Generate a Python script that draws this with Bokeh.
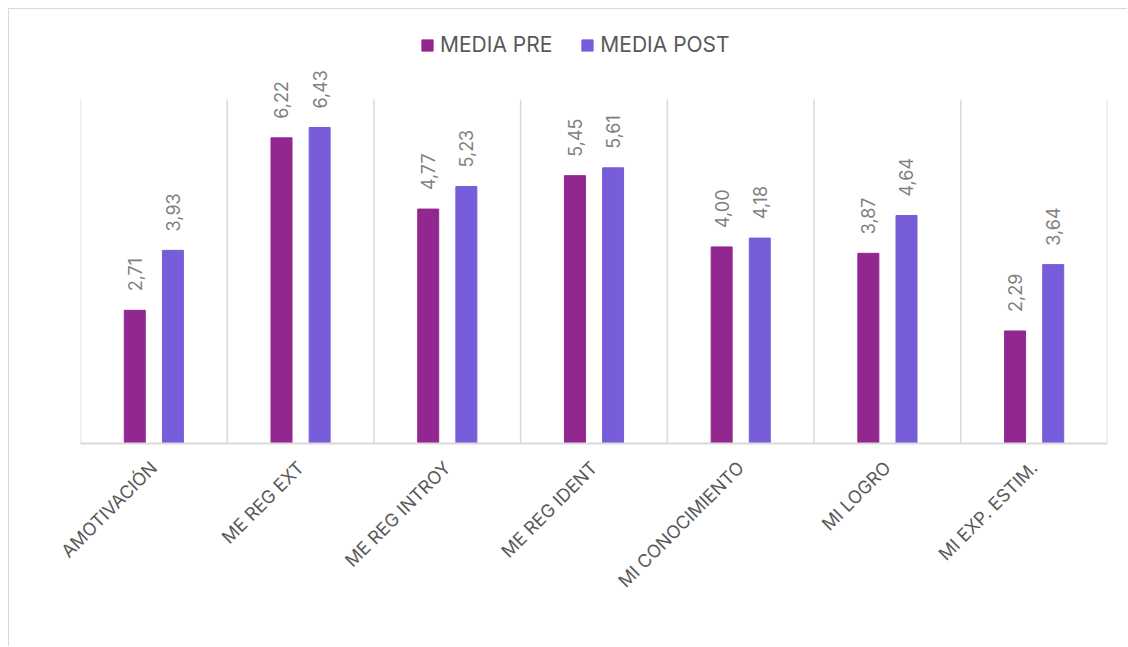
import math
from bokeh.plotting import figure
from bokeh.models import ColumnDataSource, FixedTicker, LabelSet, Legend, LegendItem
from bokeh.transform import dodge
from bokeh.core.properties import value
from bokeh.embed import file_html
from bokeh.resources import INLINE

categories = ["AMOTIVACIÓN", "ME REG EXT", "ME REG INTROY", "ME REG IDENT",
              "MI CONOCIMIENTO", "MI LOGRO", "MI EXP. ESTIM."]
media_pre = [2.71, 6.22, 4.77, 5.45, 4.00, 3.87, 2.29]
media_post = [3.93, 6.43, 5.23, 5.61, 4.18, 4.64, 3.64]
y_max = 7

PRE_COLOR = "#92278F"
POST_COLOR = "#775DD9"
FONT = "Inter"

n = len(categories)
xpos = [i + 0.5 for i in range(n)]
src = ColumnDataSource(dict(
    x=xpos, pre=media_pre, post=media_post,
    pre_lbl=[f"{v:.2f}".replace(".", ",") for v in media_pre],
    post_lbl=[f"{v:.2f}".replace(".", ",") for v in media_post],
))

# frame: 431 px tall, value axis 0..7 occupies lower 344 px
top_val = y_max * 431 / 344
p = figure(width=1119, height=638, x_range=(0, n), y_range=(0, top_val),
           output_backend="svg", toolbar_location=None,
           min_border_left=71, min_border_right=21, min_border_top=3, min_border_bottom=204)
p.styles = {"margin-left": "8px", "margin-top": "8px",
            "border-left": "1px solid #d9d9d9", "border-top": "1px solid #d9d9d9"}
p.outline_line_color = None
p.background_fill_color = "white"
p.border_fill_color = "white"
p.grid.visible = False

# category separators
p.segment(x0=list(range(n + 1)), y0=[0] * (n + 1), x1=list(range(n + 1)), y1=[y_max] * (n + 1),
          line_color="#d9d9d9", line_width=1.5, level="underlay")

r_pre = p.vbar(x=dodge("x", -0.13, range=p.x_range), top="pre", width=0.143, source=src,
               fill_color=PRE_COLOR, line_color=PRE_COLOR)
r_post = p.vbar(x=dodge("x", 0.13, range=p.x_range), top="post", width=0.143, source=src,
                fill_color=POST_COLOR, line_color=POST_COLOR)

for xs, col in ((-0.13, "pre"), (0.13, "post")):
    lbl = LabelSet(x=dodge("x", xs, range=p.x_range), y=col, text=col + "_lbl", source=src,
                   angle=math.pi / 2, text_align="left", text_baseline="middle",
                   x_offset=0, y_offset=19, text_font=value(FONT), text_font_size="18px",
                   text_color="#7f7f7f")
    p.add_layout(lbl)

p.yaxis.visible = False

ax = p.xaxis[0]
ax.ticker = FixedTicker(ticks=xpos)
ax.major_label_overrides = {x: c for x, c in zip(xpos, categories)}
ax.major_label_orientation = math.pi / 4
ax.major_label_text_font = FONT
ax.major_label_text_font_size = "18px"
ax.major_label_text_color = "#595959"
ax.major_label_standoff = 15
ax.major_tick_line_color = None
ax.minor_tick_line_color = None
ax.axis_line_color = "#d9d9d9"
ax.axis_line_width = 2

legend = Legend(items=[LegendItem(label="MEDIA PRE", renderers=[r_pre]),
                       LegendItem(label="MEDIA POST", renderers=[r_post])],
                orientation="horizontal", location=(340, 386),
                label_text_font=FONT, label_text_font_size="21px", label_text_color="#595959",
                glyph_width=14, glyph_height=14, spacing=28, label_standoff=6,
                border_line_color=None, background_fill_alpha=0, padding=0, margin=0)
p.add_layout(legend, "center")

open("out.html", "w").write(file_html(p, INLINE))
